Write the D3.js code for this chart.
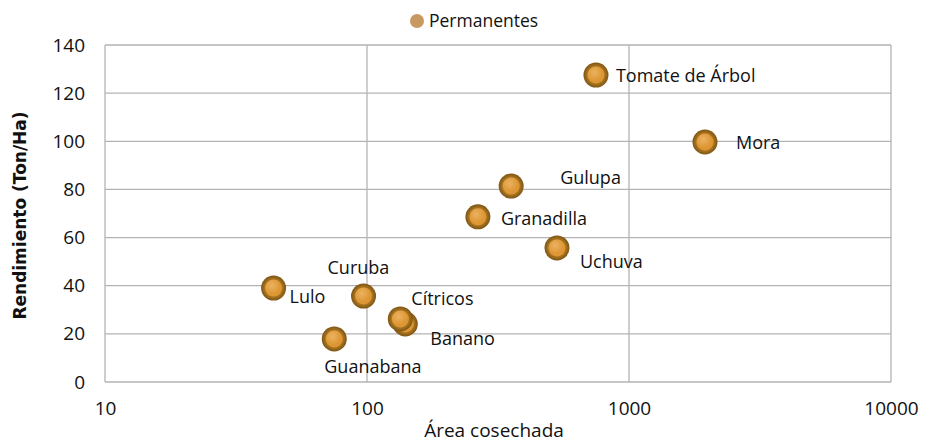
<!DOCTYPE html>
<html>
<head>
<meta charset="utf-8">
<script src="https://cdn.jsdelivr.net/npm/d3@7"></script>
<style>
  body { margin: 0; background: #fff; }
  text { font-family: "Open Sans", Lato, sans-serif; fill: #111; }
</style>
</head>
<body>
<svg id="chart" width="926" height="444"></svg>
<script>
// values
const crops = ["Tomate de Árbol", "Mora", "Gulupa", "Granadilla", "Uchuva", "Lulo", "Curuba", "Banano", "Cítricos", "Guanabana"]
const area = [748, 1950, 355, 265, 531, 44, 97, 140, 134, 75]
const yieldTonHa = [127.5, 99.7, 81.4, 68.6, 55.7, 39, 35.7, 24.1, 26.2, 17.9]
const xTicks = [10, 100, 1000, 10000]
const yTicks = [0, 20, 40, 60, 80, 100, 120, 140]

// where each label sits relative to its bubble
const labelOffset = {
    "Tomate de Árbol": [20, 7], "Mora": [31, 7], "Gulupa": [49, -2], "Granadilla": [23, 8],
    "Uchuva": [23, 20], "Lulo": [16, 15], "Curuba": [-36, -22], "Banano": [25, 21],
    "Cítricos": [11, -14], "Guanabana": [-10, 34]
}

const margin = {top: 45, right: 35, bottom: 62, left: 105}
const width = 926 - margin.left - margin.right
const height = 444 - margin.top - margin.bottom

const svg = d3.select("#chart")
const g = svg.append("g")
    .attr("transform", "translate(" + margin.left + "," + margin.top + ")")

const x = d3.scaleLog().domain([10, 10000]).range([0, width])
const y = d3.scaleLinear().domain([0, 140]).range([height, 0])

// gridlines
g.append("g").selectAll("line").data(yTicks).enter().append("line")
    .attr("x1", 0).attr("x2", width)
    .attr("y1", d => y(d)).attr("y2", d => y(d))
    .attr("stroke", "#b3b3b3").attr("stroke-width", 1.3)
g.append("g").selectAll("line").data(xTicks).enter().append("line")
    .attr("x1", d => x(d)).attr("x2", d => x(d))
    .attr("y1", 0).attr("y2", height)
    .attr("stroke", "#b3b3b3").attr("stroke-width", 1.3)

// axes (labels only, lines come from the grid)
const xAxis = g.append("g")
    .attr("transform", "translate(0," + height + ")")
    .call(d3.axisBottom(x).tickValues(xTicks).tickFormat(d3.format("d")).tickSize(0).tickPadding(20))
const yAxis = g.append("g")
    .call(d3.axisLeft(y).tickValues(yTicks).tickSize(0).tickPadding(20))
;[xAxis, yAxis].forEach(a => {
    a.select(".domain").remove()
    a.selectAll("text").attr("font-size", 19).attr("font-family", "'Open Sans', sans-serif").attr("fill", "#111")
})

svg.append("text")
    .attr("x", margin.left + width / 2 - 4).attr("y", 437)
    .attr("text-anchor", "middle").attr("font-size", 19)
    .text("Área cosechada")

svg.append("text")
    .attr("transform", "translate(26," + (margin.top + height / 2 + 2) + ") rotate(-90)")
    .attr("text-anchor", "middle").attr("font-size", 17).attr("font-weight", "bold")
    .style("font-family", "'DejaVu Sans', sans-serif")
    .text("Rendimiento (Ton/Ha)")

// bubble gradients
const defs = svg.append("defs")
const ring = defs.append("radialGradient").attr("id", "ring")
ring.append("stop").attr("offset", "70%").attr("stop-color", "#a87520")
ring.append("stop").attr("offset", "100%").attr("stop-color", "#7e5414")
const core = defs.append("radialGradient").attr("id", "core").attr("cx", "40%").attr("cy", "35%")
core.append("stop").attr("offset", "0%").attr("stop-color", "#ebb262")
core.append("stop").attr("offset", "100%").attr("stop-color", "#dd9632")

const pts = crops.map((c, i) => ({name: c, area: area[i], val: yieldTonHa[i]}))

const bubble = g.selectAll(".crop").data(pts).enter().append("g")
    .attr("class", "crop")
    .attr("transform", d => "translate(" + x(d.area) + "," + y(d.val) + ")")
bubble.append("circle").attr("r", 12.5).attr("fill", "url(#ring)")
bubble.append("circle").attr("r", 8.5).attr("fill", "url(#core)")

g.selectAll(".lbl").data(pts).enter().append("text")
    .attr("class", "lbl")
    .attr("x", d => x(d.area) + labelOffset[d.name][0])
    .attr("y", d => y(d.val) + labelOffset[d.name][1])
    .attr("font-size", 18)
    .text(d => d.name)

// legend
svg.append("circle").attr("cx", 417).attr("cy", 21).attr("r", 7).attr("fill", "#c89a62")
svg.append("text").attr("x", 429).attr("y", 27).attr("font-size", 17.5).text("Permanentes")
</script>
</body>
</html>
